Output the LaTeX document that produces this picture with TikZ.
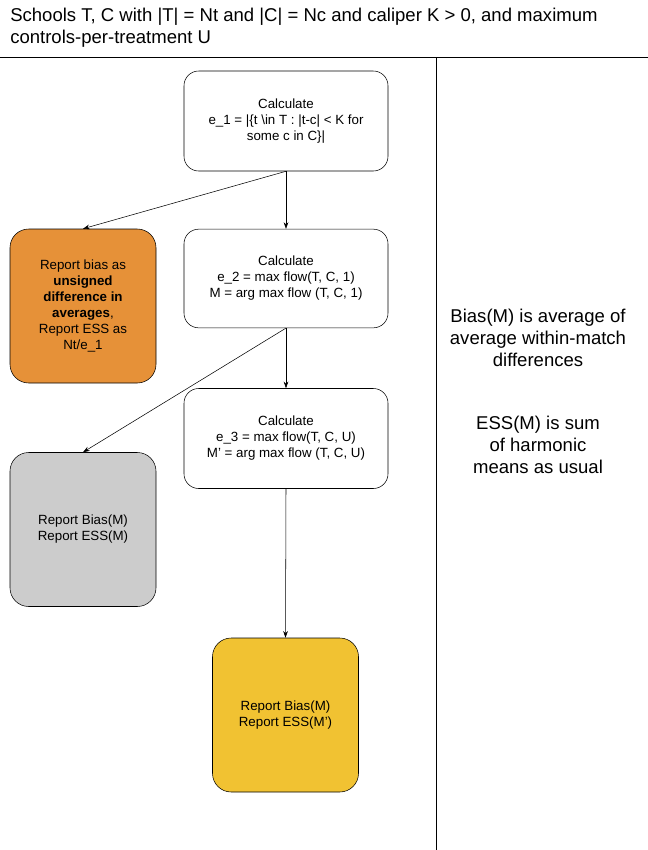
\documentclass[tikz,border=0pt]{standalone}
\usepackage{fontspec}
\setmainfont{Liberation Sans}
\usetikzlibrary{arrows.meta}
\definecolor{boxorange}{HTML}{E69138}
\definecolor{boxgray}{HTML}{CCCCCC}
\definecolor{boxyellow}{HTML}{F1C232}
\begin{document}
\begin{tikzpicture}[x=0.75pt,y=-0.75pt,
calcbox/.style={
  draw,
  rounded corners=11pt,
  align=center,
  font={\fontsize{10pt}{12pt}\selectfont},
  minimum width=153pt,
  minimum height=75pt,
  inner sep=2pt},
reportbox/.style={
  calcbox,
  rounded corners=14pt,
  minimum width=109.5pt,
  minimum height=115.5pt},
note/.style={
  align=center,
  font={\fontsize{13.9pt}{16.5pt}\selectfont}},
flow/.style={-{Stealth[length=5pt,width=3.5pt]}, thin},
]
\useasboundingbox (0,0) rectangle (648,850);

% title and frame lines
\node[note,align=left,anchor=north west,inner sep=0pt] (title) at (10,8)
{Schools T, C with |T| = Nt and |C| = Nc and caliper K > 0, and maximum\\
controls-per-treatment U};
\coordinate (hl) at (0,57);
\coordinate (hr) at (648,57);
\coordinate (vt) at (436,57);
\coordinate (vb) at (436,850);
\draw (hl) -- (hr);
\draw (vt) -- (vb);

% calculation steps
\node[calcbox] (calc1) at (286,121)
{Calculate\\ e\_1 = |\{t \textbackslash in T : |t-c| < K for\\ some c in C\}|};
\node[calcbox,minimum height=74pt] (calc2) at (286,278.5)
{Calculate\\ e\_2 = max flow(T, C, 1)\\ M = arg max flow (T, C, 1)};
\node[calcbox] (calc3) at (286,438.5)
{Calculate\\ e\_3 = max flow(T, C, U)\\ M' = arg max flow (T, C, U)};

% reports
\node[reportbox,fill=boxorange] (rep1) at (83,306)
{Report bias as\\ \textbf{unsigned}\\ \textbf{difference in}\\ \textbf{averages},\\ Report ESS as\\ Nt/e\_1};
\node[reportbox,fill=boxgray] (rep2) at (83,529.5)
{Report Bias(M)\\ Report ESS(M)};
\node[reportbox,fill=boxyellow] (rep3) at (285.5,715)
{Report Bias(M)\\ Report ESS(M')};

% side notes
\node[note] (biasnote) at (538,338)
{Bias(M) is average of\\ average within-match\\ differences};
\node[note] (essnote) at (538,445)
{ESS(M) is sum\\ of harmonic\\ means as usual};

\draw[flow] (calc1.south) -- (calc2.north);
\draw[flow] (calc1.south) -- (rep1.north);
\draw[flow] (calc2.south) -- (calc3.north);
\draw[flow] (calc2.south) -- (rep2.north);
\draw[flow] (calc3.south) -- (rep3.north);

\end{tikzpicture}
\end{document}
